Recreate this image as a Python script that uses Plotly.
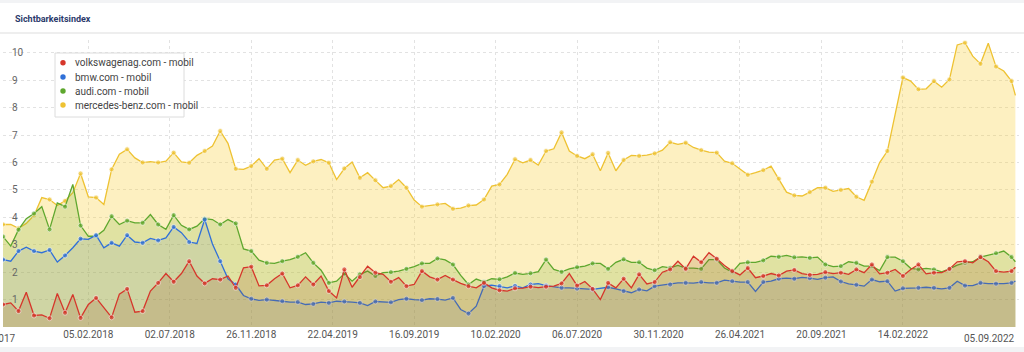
import pandas as pd
import plotly.graph_objects as go

# ---------------- data ----------------
dates = list(pd.date_range("2017-09-04", periods=131, freq="14D")) + [pd.Timestamp("2022-09-05")]

mercedes = [3.74, 3.74, 3.6, 3.78, 4.07, 4.72, 4.65, 4.43, 4.6, 4.9, 5.6, 4.75, 4.72, 4.47, 5.75, 6.3, 6.48, 6.17, 6.0, 6.03, 6.0, 6.05, 6.36,
            6.02, 5.99, 6.26, 6.42, 6.6, 7.15, 6.7, 5.77, 5.75, 5.87, 6.14, 5.77, 6.09, 6.14, 5.63, 6.09, 5.9, 6.04, 6.11, 5.99, 5.38, 5.78,
            6.02, 5.44, 5.63, 5.35, 5.08, 5.14, 5.38, 5.08, 4.63, 4.39, 4.43, 4.47, 4.51, 4.31, 4.34, 4.43, 4.45, 4.65, 5.14, 5.2, 5.57, 6.12,
            5.99, 6.09, 5.91, 6.42, 6.5, 7.1, 6.42, 6.24, 6.14, 6.3, 5.7, 6.35, 5.7, 6.09, 6.26, 6.24, 6.27, 6.33, 6.45, 6.74, 6.66, 6.72,
            6.55, 6.45, 6.38, 6.36, 6.05, 5.97, 5.75, 5.55, 5.63, 5.72, 5.87, 5.41, 4.92, 4.8, 4.78, 4.92, 5.08, 5.08, 4.95, 5.0, 5.05,
            4.75, 4.62, 5.3, 6.0, 6.42, 7.76, 9.1, 8.97, 8.67, 8.69, 8.97, 8.75, 9.03, 10.29, 10.37, 9.88, 9.6, 10.35, 9.5, 9.34, 8.97,
            8.45]

audi = [3.3, 2.95, 3.55, 3.95, 4.14, 4.39, 3.56, 4.53, 4.39, 5.2, 3.7, 3.31, 3.31, 3.53, 4.04, 3.74, 3.88, 3.8, 3.8, 4.1, 3.74, 3.56, 4.08,
        3.71, 3.56, 3.68, 3.95, 3.92, 3.74, 3.92, 3.78, 2.85, 2.77, 2.44, 2.34, 2.32, 2.4, 2.46, 2.56, 2.71, 2.34, 2.07, 1.61, 1.67, 1.95,
        1.67, 1.92, 2.04, 1.86, 1.98, 2.0, 2.04, 2.12, 2.2, 2.32, 2.32, 2.5, 2.45, 2.28, 1.88, 1.55, 1.75, 1.65, 1.76, 1.74, 1.83, 1.97,
        1.92, 1.96, 2.02, 2.46, 2.1, 2.01, 2.12, 2.18, 2.22, 2.32, 2.32, 2.12, 2.36, 2.47, 2.36, 2.36, 2.15, 2.07, 2.2, 2.16, 2.25, 2.15,
        2.15, 2.12, 2.46, 2.46, 2.15, 2.0, 2.32, 2.36, 2.36, 2.43, 2.58, 2.56, 2.61, 2.54, 2.56, 2.52, 2.55, 2.28, 2.2, 2.22, 2.38,
        2.34, 2.22, 2.22, 2.06, 2.55, 2.55, 2.4, 2.14, 2.1, 2.14, 2.1, 2.01, 2.12, 2.26, 2.34, 2.38, 2.55, 2.61, 2.69, 2.77, 2.55,
        2.38]

bmw = [2.46, 2.4, 2.77, 2.91, 2.77, 2.71, 2.81, 2.37, 2.61, 2.89, 3.22, 3.2, 3.35, 2.89, 3.07, 2.95, 3.35, 3.1, 3.07, 3.23, 3.16, 3.25, 3.65,
       3.44, 3.1, 3.05, 3.92, 3.03, 2.4, 1.76, 1.55, 1.15, 1.03, 0.97, 1.0, 0.96, 0.94, 0.91, 0.91, 0.82, 0.84, 0.91, 0.88, 0.94, 0.93,
       0.91, 0.88, 0.78, 0.93, 0.91, 0.9, 1.0, 1.03, 1.0, 0.98, 1.03, 1.02, 0.98, 1.06, 0.64, 0.49, 0.76, 1.49, 1.53, 1.49, 1.43, 1.5,
       1.43, 1.55, 1.58, 1.51, 1.47, 1.43, 1.43, 1.4, 1.39, 1.37, 1.4, 1.45, 1.39, 1.31, 1.25, 1.37, 1.32, 1.49, 1.53, 1.55, 1.61, 1.61,
       1.6, 1.64, 1.61, 1.61, 1.71, 1.67, 1.64, 1.64, 1.3, 1.64, 1.67, 1.76, 1.78, 1.76, 1.81, 1.78, 1.74, 1.8, 1.83, 1.66, 1.57,
       1.54, 1.49, 1.73, 1.65, 1.67, 1.31, 1.41, 1.41, 1.43, 1.45, 1.43, 1.39, 1.43, 1.67, 1.51, 1.51, 1.61, 1.58, 1.58, 1.58, 1.61,
       1.67]

volkswagen = [0.82, 0.88, 0.58, 1.27, 0.42, 0.44, 0.32, 1.22, 0.52, 1.19, 0.33, 0.82, 1.06, 0.7, 0.35, 1.2, 1.39, 0.54, 0.58, 1.31, 1.61, 1.95, 1.65,
              1.95, 2.4, 1.86, 1.59, 1.76, 1.73, 1.86, 1.43, 2.16, 2.2, 1.5, 1.52, 1.76, 1.95, 1.43, 1.52, 1.83, 1.55, 1.86, 1.31, 1.06, 2.1,
              1.45, 1.82, 2.22, 1.98, 1.92, 1.65, 1.8, 1.49, 1.55, 2.04, 1.83, 1.73, 1.88, 1.73, 1.59, 1.49, 1.43, 1.61, 1.43, 1.34, 1.31, 1.41,
              1.42, 1.47, 1.44, 1.47, 1.49, 1.59, 1.95, 1.51, 1.66, 1.39, 1.0, 1.61, 1.43, 1.76, 1.43, 1.92, 1.57, 1.64, 2.0, 2.1, 2.4, 2.12,
              2.58, 2.36, 2.71, 2.49, 2.24, 2.04, 1.9, 2.15, 1.8, 1.86, 1.95, 1.88, 2.04, 2.08, 1.95, 1.9, 1.92, 2.0, 1.95, 1.98, 1.92,
              2.1, 1.98, 2.28, 1.94, 1.98, 2.1, 1.86, 2.1, 2.28, 1.94, 1.98, 1.98, 2.12, 2.38, 2.4, 2.34, 2.55, 2.38, 2.04, 2.0, 2.04,
              2.18]

series_names = ["volkswagenag.com - mobil", "bmw.com - mobil", "audi.com - mobil", "mercedes-benz.com - mobil"]
tick_dates = ["2018-02-05", "2018-07-02", "2018-11-26", "2019-04-22", "2019-09-16", "2020-02-10",
              "2020-07-06", "2020-11-30", "2021-04-26", "2021-09-20", "2022-02-14"]
tick_labels = ["05.02.2018", "02.07.2018", "26.11.2018", "22.04.2019", "16.09.2019", "10.02.2020",
               "06.07.2020", "30.11.2020", "26.04.2021", "20.09.2021", "14.02.2022"]
first_label = "11.09.2017"
last_label = "05.09.2022"
title_text = "Sichtbarkeitsindex"

# ---------------- styling ----------------
W, H = 1024, 352
ML, MR, MT, MB = 3, 5, 40, 25
PW, PH = W - ML - MR, H - MT - MB


def px(x):
    return (x - ML) / PW


def py(y):
    return (H - MB - y) / PH


FONT = "Roboto, Arial, sans-serif"
colors = {
    "volkswagenag.com - mobil": ("#d6362b", "rgba(160,90,40,0.20)"),
    "bmw.com - mobil": ("#3070d8", "rgba(60,100,190,0.10)"),
    "audi.com - mobil": ("#5ea72e", "rgba(110,170,40,0.20)"),
    "mercedes-benz.com - mobil": ("#eec232", "rgba(250,205,50,0.30)"),
}
values = {
    "volkswagenag.com - mobil": volkswagen,
    "bmw.com - mobil": bmw,
    "audi.com - mobil": audi,
    "mercedes-benz.com - mobil": mercedes,
}

n = len(dates)
for k, v in values.items():
    assert len(v) == n, (k, len(v), n)

msize = [5 if i % 2 == 0 else 0 for i in range(n)]
mline = [1 if i % 2 == 0 else 0 for i in range(n)]

fig = go.Figure()
for name in ["mercedes-benz.com - mobil", "audi.com - mobil", "bmw.com - mobil", "volkswagenag.com - mobil"]:
    lc, fc = colors[name]
    fig.add_trace(go.Scatter(
        x=dates, y=values[name], name=name, mode="lines+markers",
        line=dict(color=lc, width=1.3),
        marker=dict(size=msize, color=lc, line=dict(color="rgba(255,255,255,0.7)", width=mline)),
        fill="tozeroy", fillcolor=fc, hoverinfo="skip", showlegend=False,
    ))

shapes = [
    dict(type="rect", xref="paper", yref="paper", x0=px(0), x1=px(W), y0=py(3), y1=py(0),
         fillcolor="#f2f3f5", line=dict(width=0), layer="above"),
    dict(type="line", xref="paper", yref="paper", x0=px(0), x1=px(W), y0=py(33), y1=py(33),
         line=dict(color="#eeeeee", width=2)),
    dict(type="rect", xref="paper", yref="paper", x0=px(0), x1=px(W), y0=py(H), y1=py(347),
         fillcolor="#f2f3f5", line=dict(width=0)),
    dict(type="rect", xref="paper", yref="paper", x0=px(55), x1=px(184), y0=py(117), y1=py(53),
         fillcolor="white", line=dict(color="#dcdcdc", width=1), layer="above"),
]

annotations = [
    dict(text="<b>" + title_text + "</b>", x=px(13), y=py(19), xref="paper", yref="paper",
         xanchor="left", yanchor="middle", showarrow=False, font=dict(family=FONT, size=9, color="#2b3a6b")),
    dict(text=first_label, x=px(18), y=py(338), xref="paper", yref="paper", xanchor="right",
         yanchor="middle", showarrow=False, font=dict(family=FONT, size=10, color="#555555")),
    dict(text=last_label, x=px(1017), y=py(338), xref="paper", yref="paper", xanchor="right",
         yanchor="middle", showarrow=False, font=dict(family=FONT, size=10, color="#555555")),
]

legend_rows = [62.7, 77.0, 91.0, 105.0]
for name, ry in zip(series_names, legend_rows):
    lc, _ = colors[name]
    shapes.append(dict(type="circle", xref="paper", yref="paper", xsizemode="pixel", ysizemode="pixel",
                       xanchor=px(63), yanchor=py(ry), x0=-2.7, x1=2.7, y0=-2.7, y1=2.7,
                       fillcolor=lc, line=dict(width=0), layer="above"))
    annotations.append(dict(text=name, x=px(73), y=py(ry), xref="paper", yref="paper", xanchor="left",
                            yanchor="middle", showarrow=False, font=dict(family=FONT, size=10, color="#444444")))

fig.update_layout(
    width=W, height=H, margin=dict(l=ML, r=MR, t=MT, b=MB),
    paper_bgcolor="white", plot_bgcolor="white",
    font=dict(family=FONT, size=10, color="#555555"),
    showlegend=False, shapes=shapes, annotations=annotations,
    xaxis=dict(range=["2017-09-04", "2022-09-11 12:00"], tickvals=tick_dates, ticktext=tick_labels,
               showgrid=True, gridcolor="#e2e2e2", griddash="dot", gridwidth=1, zeroline=False,
               showline=False, ticks="", tickfont=dict(size=10, color="#555555")),
    yaxis=dict(range=[0, 10.47], tickvals=list(range(1, 11)), ticklabelposition="inside",
               ticklabelstandoff=6,
               showgrid=True, gridcolor="#e2e2e2", griddash="dot", gridwidth=1, zeroline=False,
               showline=False, ticks="", tickfont=dict(size=10, color="#666666")),
)

fig.write_html("out.html")
